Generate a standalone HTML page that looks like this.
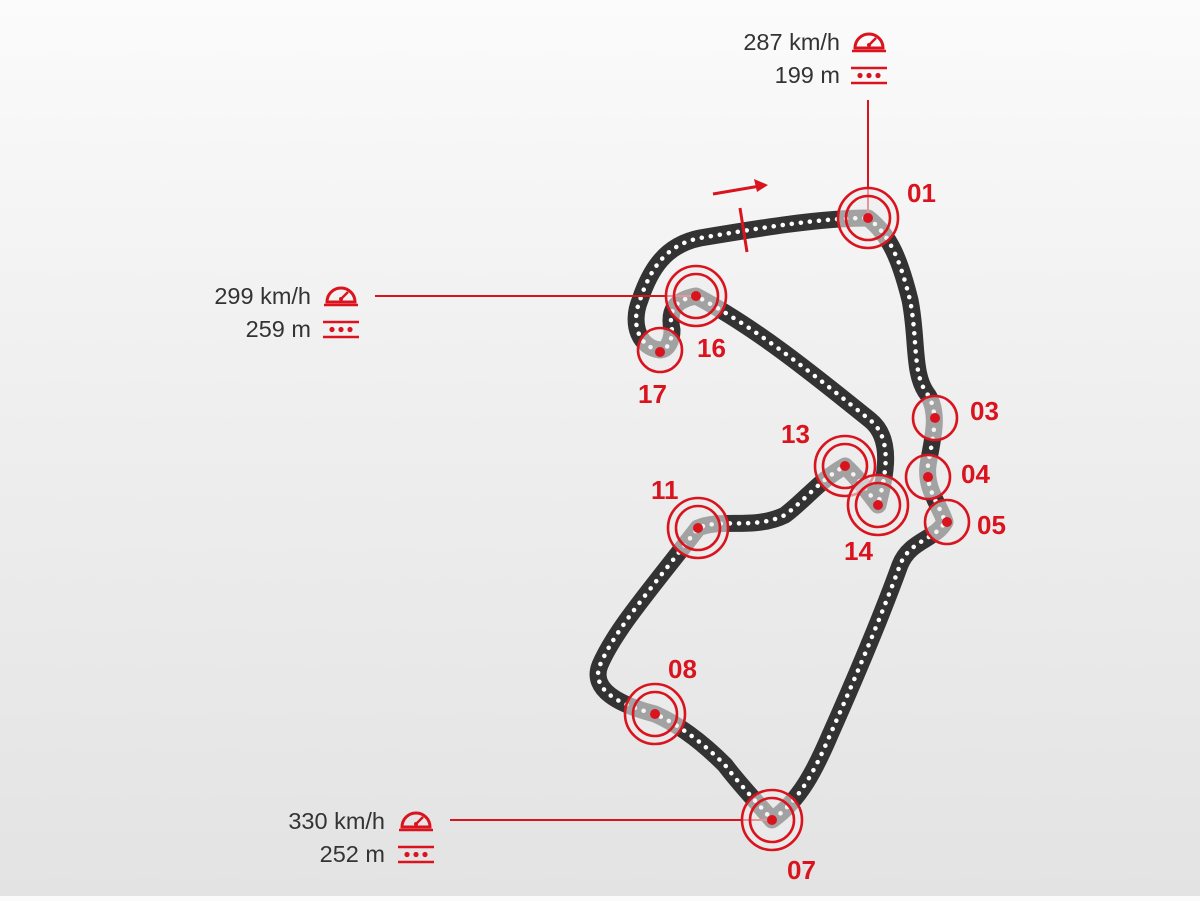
<!DOCTYPE html>
<html><head><meta charset="utf-8"><style>
html,body{margin:0;padding:0}
body{width:1200px;height:896px;overflow:hidden;background:linear-gradient(#fbfbfb,#f0f0f0 40%,#e3e3e3);font-family:"Liberation Sans",sans-serif}
</style></head><body>
<svg width="1200" height="896" viewBox="0 0 1200 896" xmlns="http://www.w3.org/2000/svg">
<defs>
<g id="spd"><path d="M-14 6 A14 14 0 1 1 14 6 Z" fill="none" stroke="#d9141e" stroke-width="3"/><line x1="-17" y1="9" x2="17" y2="9" stroke="#d9141e" stroke-width="2.5"/><line x1="0" y1="3" x2="7" y2="-4" stroke="#d9141e" stroke-width="2.5"/><circle cx="0" cy="3" r="2" fill="#d9141e"/></g>
<g id="dst"><line x1="-18" y1="-7" x2="18" y2="-7" stroke="#d9141e" stroke-width="2.5"/><line x1="-18" y1="8" x2="18" y2="8" stroke="#d9141e" stroke-width="2.5"/><circle cx="-9" cy="0.5" r="2.6" fill="#d9141e"/><circle cx="0" cy="0.5" r="2.6" fill="#d9141e"/><circle cx="9" cy="0.5" r="2.6" fill="#d9141e"/></g>
</defs>
<g fill="none" stroke-linecap="round" stroke-linejoin="round">
<path d="M868 218 C890 235 900 260 910 300 C918 340 912 375 928 395 C940 415 932 440 928 465 C925 490 940 505 945 522 C935 540 910 540 900 565 C880 620 850 690 830 735 C815 770 800 800 772 820 C755 800 740 785 725 765 C705 745 680 725 655 714 C620 705 590 690 600 665 C615 630 650 590 698 528 C720 518 755 530 785 515 C805 500 820 480 845 466 C860 480 870 495 878 505 C884 480 895 440 870 420 C820 380 760 330 696 296 C675 300 668 310 672 330 C672 340 668 350 660 350 C640 348 630 325 640 300 C650 270 665 245 700 238 C760 228 820 218 868 218 Z" stroke="#333" stroke-width="17"/>
<path d="M868 218 C890 235 900 260 910 300 C918 340 912 375 928 395 C940 415 932 440 928 465 C925 490 940 505 945 522 C935 540 910 540 900 565 C880 620 850 690 830 735 C815 770 800 800 772 820 C755 800 740 785 725 765 C705 745 680 725 655 714 C620 705 590 690 600 665 C615 630 650 590 698 528 C720 518 755 530 785 515 C805 500 820 480 845 466 C860 480 870 495 878 505 C884 480 895 440 870 420 C820 380 760 330 696 296 C675 300 668 310 672 330 C672 340 668 350 660 350 C640 348 630 325 640 300 C650 270 665 245 700 238 C760 228 820 218 868 218 Z" stroke="#fff" stroke-width="4.5" stroke-dasharray="0.1 9"/>
</g>
<line x1="740" y1="208" x2="747" y2="252" stroke="#d9141e" stroke-width="3"/>
<line x1="713" y1="194" x2="760" y2="186" stroke="#d9141e" stroke-width="3"/>
<path d="M768 185 L754 179 L757 192 Z" fill="#d9141e"/>
<g stroke="#d9141e" stroke-width="2">
<line x1="868" y1="100" x2="868" y2="218"/>
<line x1="375" y1="296" x2="696" y2="296"/>
<line x1="450" y1="820" x2="772" y2="820"/>
</g>
<g stroke="#d9141e" stroke-width="2.6" fill="rgba(236,236,236,0.6)">
<circle cx="868" cy="218" r="30"/><circle cx="868" cy="218" r="22" fill="none"/>
<circle cx="696" cy="296" r="30"/><circle cx="696" cy="296" r="22" fill="none"/>
<circle cx="660" cy="350" r="22"/>
<circle cx="935" cy="418" r="22"/>
<circle cx="928" cy="477" r="22"/>
<circle cx="947" cy="522" r="22"/>
<circle cx="845" cy="466" r="30"/><circle cx="845" cy="466" r="22" fill="none"/>
<circle cx="878" cy="505" r="30"/><circle cx="878" cy="505" r="22" fill="none"/>
<circle cx="698" cy="528" r="30"/><circle cx="698" cy="528" r="22" fill="none"/>
<circle cx="655" cy="714" r="30"/><circle cx="655" cy="714" r="22" fill="none"/>
<circle cx="772" cy="820" r="30"/><circle cx="772" cy="820" r="22" fill="none"/>
</g>
<g fill="#d9141e">
<circle cx="868" cy="218" r="5"/><circle cx="696" cy="296" r="5"/><circle cx="660" cy="352" r="5"/><circle cx="935" cy="418" r="5"/><circle cx="928" cy="477" r="5"/><circle cx="947" cy="522" r="5"/><circle cx="845" cy="466" r="5"/><circle cx="878" cy="505" r="5"/><circle cx="698" cy="528" r="5"/><circle cx="655" cy="714" r="5"/><circle cx="772" cy="820" r="5"/>
</g>
<g fill="#d9141e" font-weight="bold" font-size="26" font-family="Liberation Sans,sans-serif">
<text x="907" y="202">01</text>
<text x="697" y="357">16</text>
<text x="638" y="403">17</text>
<text x="970" y="420">03</text>
<text x="961" y="483">04</text>
<text x="977" y="534">05</text>
<text x="781" y="443">13</text>
<text x="844" y="560">14</text>
<text x="651" y="499">11</text>
<text x="668" y="678">08</text>
<text x="787" y="879">07</text>
</g>
<g fill="#333" font-size="23.5" text-anchor="end" font-family="Liberation Sans,sans-serif">
<text x="840" y="50">287 km/h</text><text x="840" y="83">199 m</text>
<text x="311" y="304">299 km/h</text><text x="311" y="337">259 m</text>
<text x="385" y="829">330 km/h</text><text x="385" y="862">252 m</text>
</g>
<use href="#spd" x="869" y="42"/><use href="#dst" x="869" y="75"/>
<use href="#spd" x="341" y="296"/><use href="#dst" x="341" y="329"/>
<use href="#spd" x="416" y="821"/><use href="#dst" x="416" y="854"/>
</svg>
</body></html>
